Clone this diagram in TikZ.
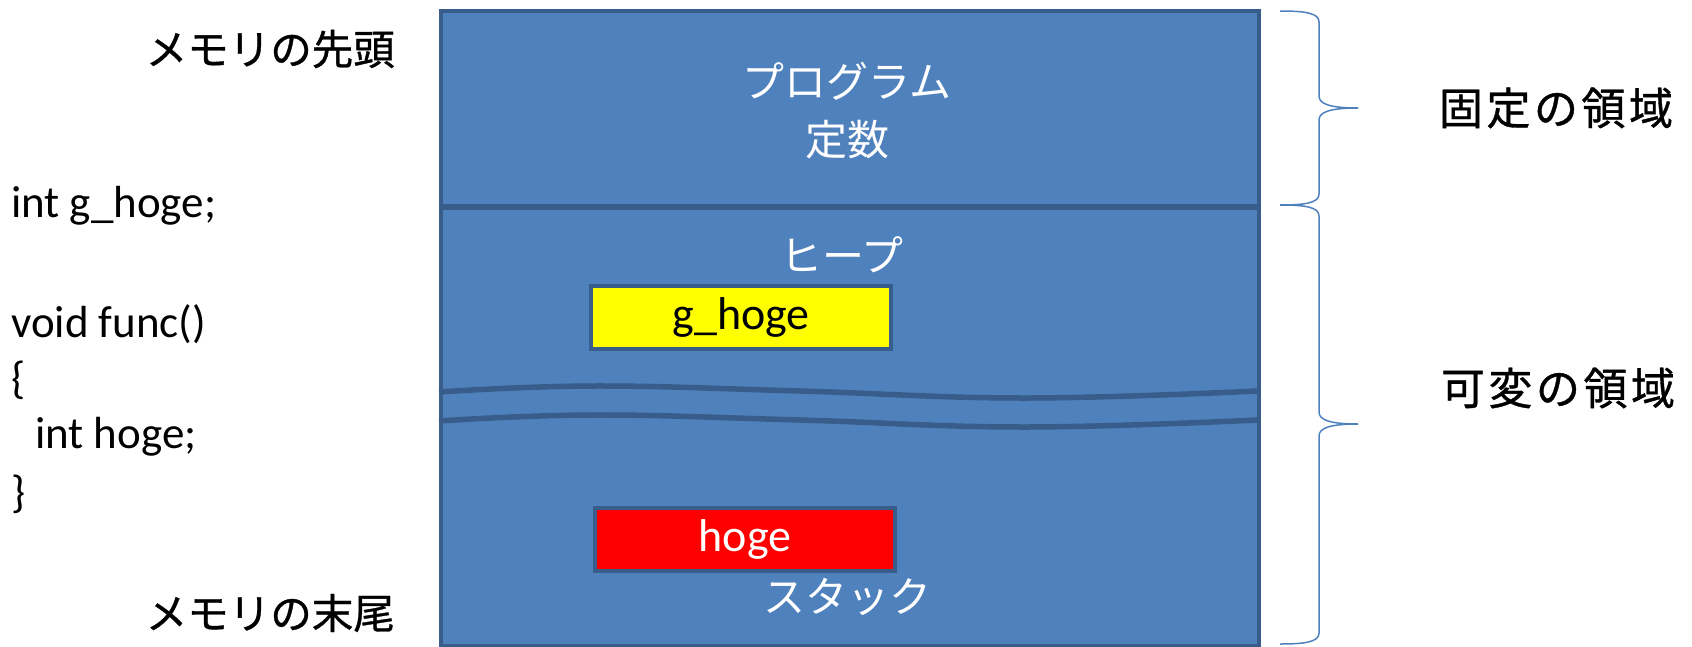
\documentclass[tikz,border=0pt]{standalone}
\usepackage{fontspec}
\setmainfont{Carlito}
\newfontfamily\jp{Noto Sans CJK JP}
\newfontfamily\jpleft{Noto Sans CJK JP}[FakeBold=0.8]
\newfontfamily\jpright{Noto Sans CJK JP}[LetterSpace=8,FakeBold=0.8]
\definecolor{boxblue}{HTML}{4F81BD}
\definecolor{edgeblue}{HTML}{385D8A}
\definecolor{puryellow}{HTML}{FFFF00}
\definecolor{purred}{HTML}{FF0000}
\tikzset{
  region/.style={draw=edgeblue, line width=4pt, fill=boxblue, rectangle, anchor=north west, inner sep=0pt, minimum width=818pt},
  wave/.style={draw=edgeblue, line width=5.5pt},
  whitejp/.style={text=white, font=\jp\fontsize{42}{48}\selectfont, inner sep=0pt},
  leftjp/.style={text=black, font=\jpleft\fontsize{41.5}{46}\selectfont, inner sep=0pt, anchor=east},
  rightjp/.style={text=black, font=\jpright\fontsize{44}{50}\selectfont, inner sep=0pt},
  code/.style={text=black, font=\fontsize{45}{52}\selectfont, inner sep=0pt, anchor=west},
  varbox/.style={draw=edgeblue, line width=4pt, rectangle, minimum width=300pt, minimum height=63pt, inner sep=0pt, font=\fontsize{46}{52}\selectfont},
  brace/.style={draw=boxblue, line width=1.5pt}
}
\begin{document}
\begin{tikzpicture}[x=1pt,y=-1pt]
\useasboundingbox (0,0) rectangle (1692,646);
\fill[white] (0,0) rectangle (1692,646);
% memory regions
\node[region, minimum height=195pt] (fixed) at (439,9) {};
\node[region, minimum height=438pt] (variable) at (439,206) {};
% wavy break lines
\draw[wave] plot[smooth, tension=0.7] coordinates {(439,392) (593,386) (800,391) (1025,398) (1257,391)};
\draw[wave] plot[smooth, tension=0.7] coordinates {(439,421) (593,415) (800,420) (1025,427) (1257,420)};
% texts in regions
\node[whitejp] (prog) at (847,81) {プログラム};
\node[whitejp] (const) at (847,140) {定数};
\node[whitejp] (heap) at (842,255) {ヒープ};
\node[whitejp] (stack) at (847,597) {スタック};
% variable boxes
\node[varbox, fill=puryellow, text=black] (ghoge) at (741,317) {g\_hoge};
\node[varbox, fill=purred, text=white] (hoge) at (745,539) {hoge};
% left labels
\node[leftjp] (top) at (395,49) {メモリの先頭};
\node[leftjp] (bottom) at (395,613) {メモリの末尾};
% code
\node[code] (c1) at (11,206) {int g\_hoge;};
\node[code] (c2) at (11,324) {void func()};
\node[code] (c3) at (11,380) {\{};
\node[code] (c4) at (35,437) {int hoge;};
\node[code] (c5) at (11,494) {\}};
% braces
\coordinate (b1t) at (1280,11);
\coordinate (b1m) at (1280,205);
\coordinate (b1b) at (1280,644);
\draw[brace] (b1t) .. controls (1305,11) and (1319,13) .. (1319,22) -- (1319,96)
  .. controls (1319,104) and (1330,108) .. (1358,108);
\draw[brace] (1358,108) .. controls (1330,108) and (1319,112) .. (1319,120) -- (1319,194)
  .. controls (1319,203) and (1305,205) .. (b1m);
\draw[brace] (b1m) .. controls (1305,205) and (1319,207) .. (1319,216) -- (1319,412)
  .. controls (1319,420) and (1330,424) .. (1358,424);
\draw[brace] (1358,424) .. controls (1330,424) and (1319,428) .. (1319,436) -- (1319,633)
  .. controls (1319,642) and (1305,644) .. (b1b);
% right labels
\node[rightjp] (fixlbl) at (1556,108) {固定の領域};
\node[rightjp] (varlbl) at (1558,388) {可変の領域};
\end{tikzpicture}
\end{document}
